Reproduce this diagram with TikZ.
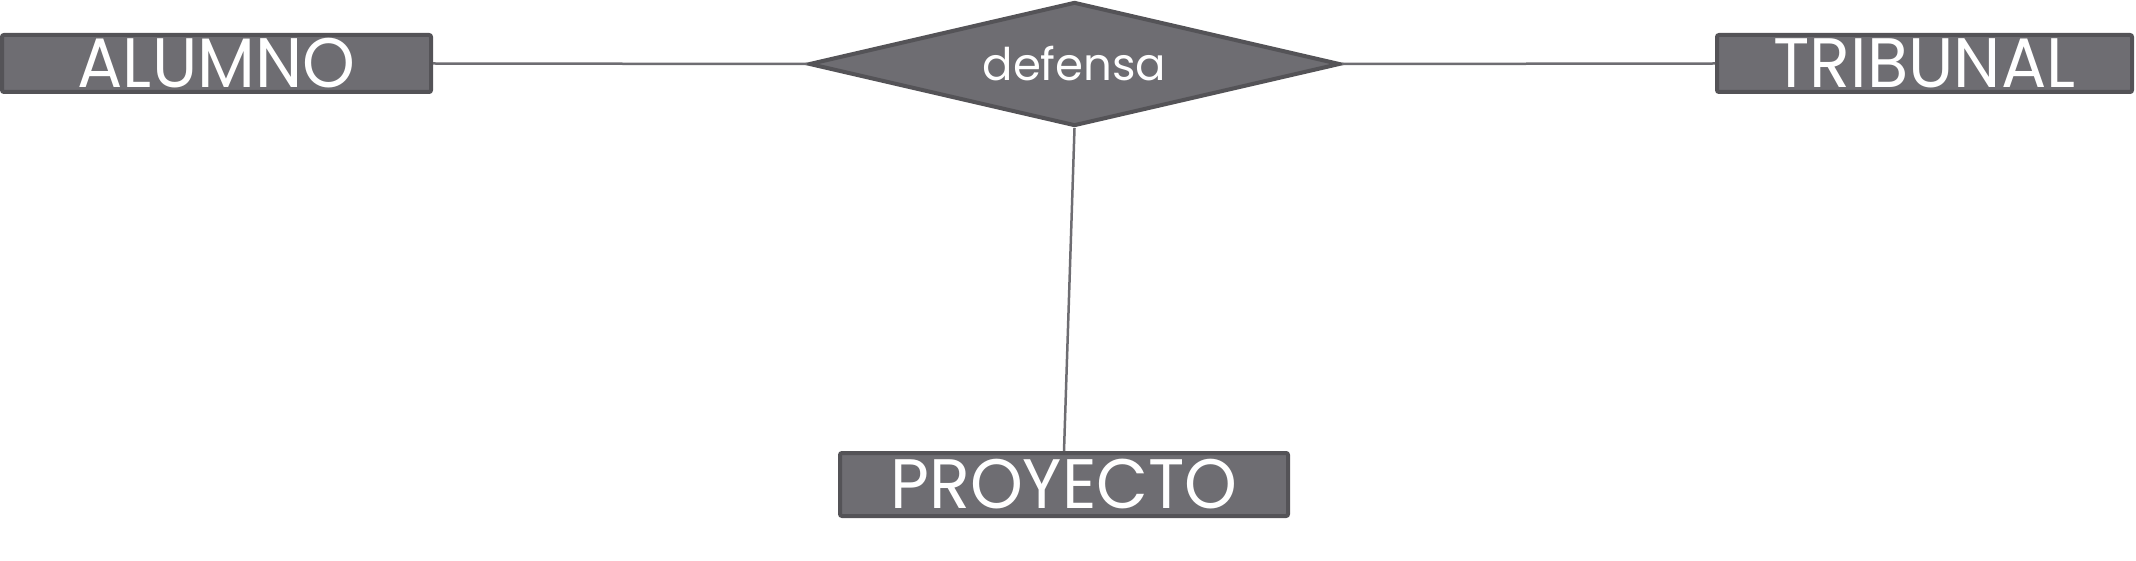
\documentclass[tikz,border=0pt]{standalone}
\usepackage{fontspec}
\setmainfont{Poppins}
\usetikzlibrary{shapes.geometric}
\definecolor{boxfill}{HTML}{6E6D72}
\definecolor{boxline}{HTML}{545357}
\definecolor{connline}{HTML}{6E6D72}
\begin{document}
\begin{tikzpicture}[x=1pt,y=-1pt,
  entity/.style={rectangle, fill=boxfill, draw=boxline, line width=4pt, rounded corners=2pt,
    text=white, inner sep=0pt, font=\fontsize{70}{72}\selectfont},
  relation/.style={diamond, aspect=4.28, fill=boxfill, draw=boxline, line width=4pt,
    text=white, inner sep=0pt, minimum width=531pt, minimum height=124pt,
    font=\fontsize{45}{47}\selectfont},
  conn/.style={draw=connline, line width=2.5pt}]
\useasboundingbox (0,0) rectangle (2136,561);
\node[entity, minimum width=429pt, minimum height=57pt] (alumno) at (216.5,63.5) {\scalebox{0.96}[1]{ALUMNO}};
\node[entity, minimum width=415pt, minimum height=57pt] (tribunal) at (1924.5,63.5) {\scalebox{0.96}[1]{TRIBUNAL}};
\node[entity, minimum width=448pt, minimum height=63pt] (proyecto) at (1064,484.5) {\scalebox{0.96}[1]{PROYECTO}};
\node[relation] (defensa) at (1074.5,64) {defensa};
\draw[conn] (alumno.east) -- (defensa.west);
\draw[conn] (defensa.east) -- (tribunal.west);
\draw[conn] (defensa.south) -- (proyecto.north);
\end{tikzpicture}
\end{document}
